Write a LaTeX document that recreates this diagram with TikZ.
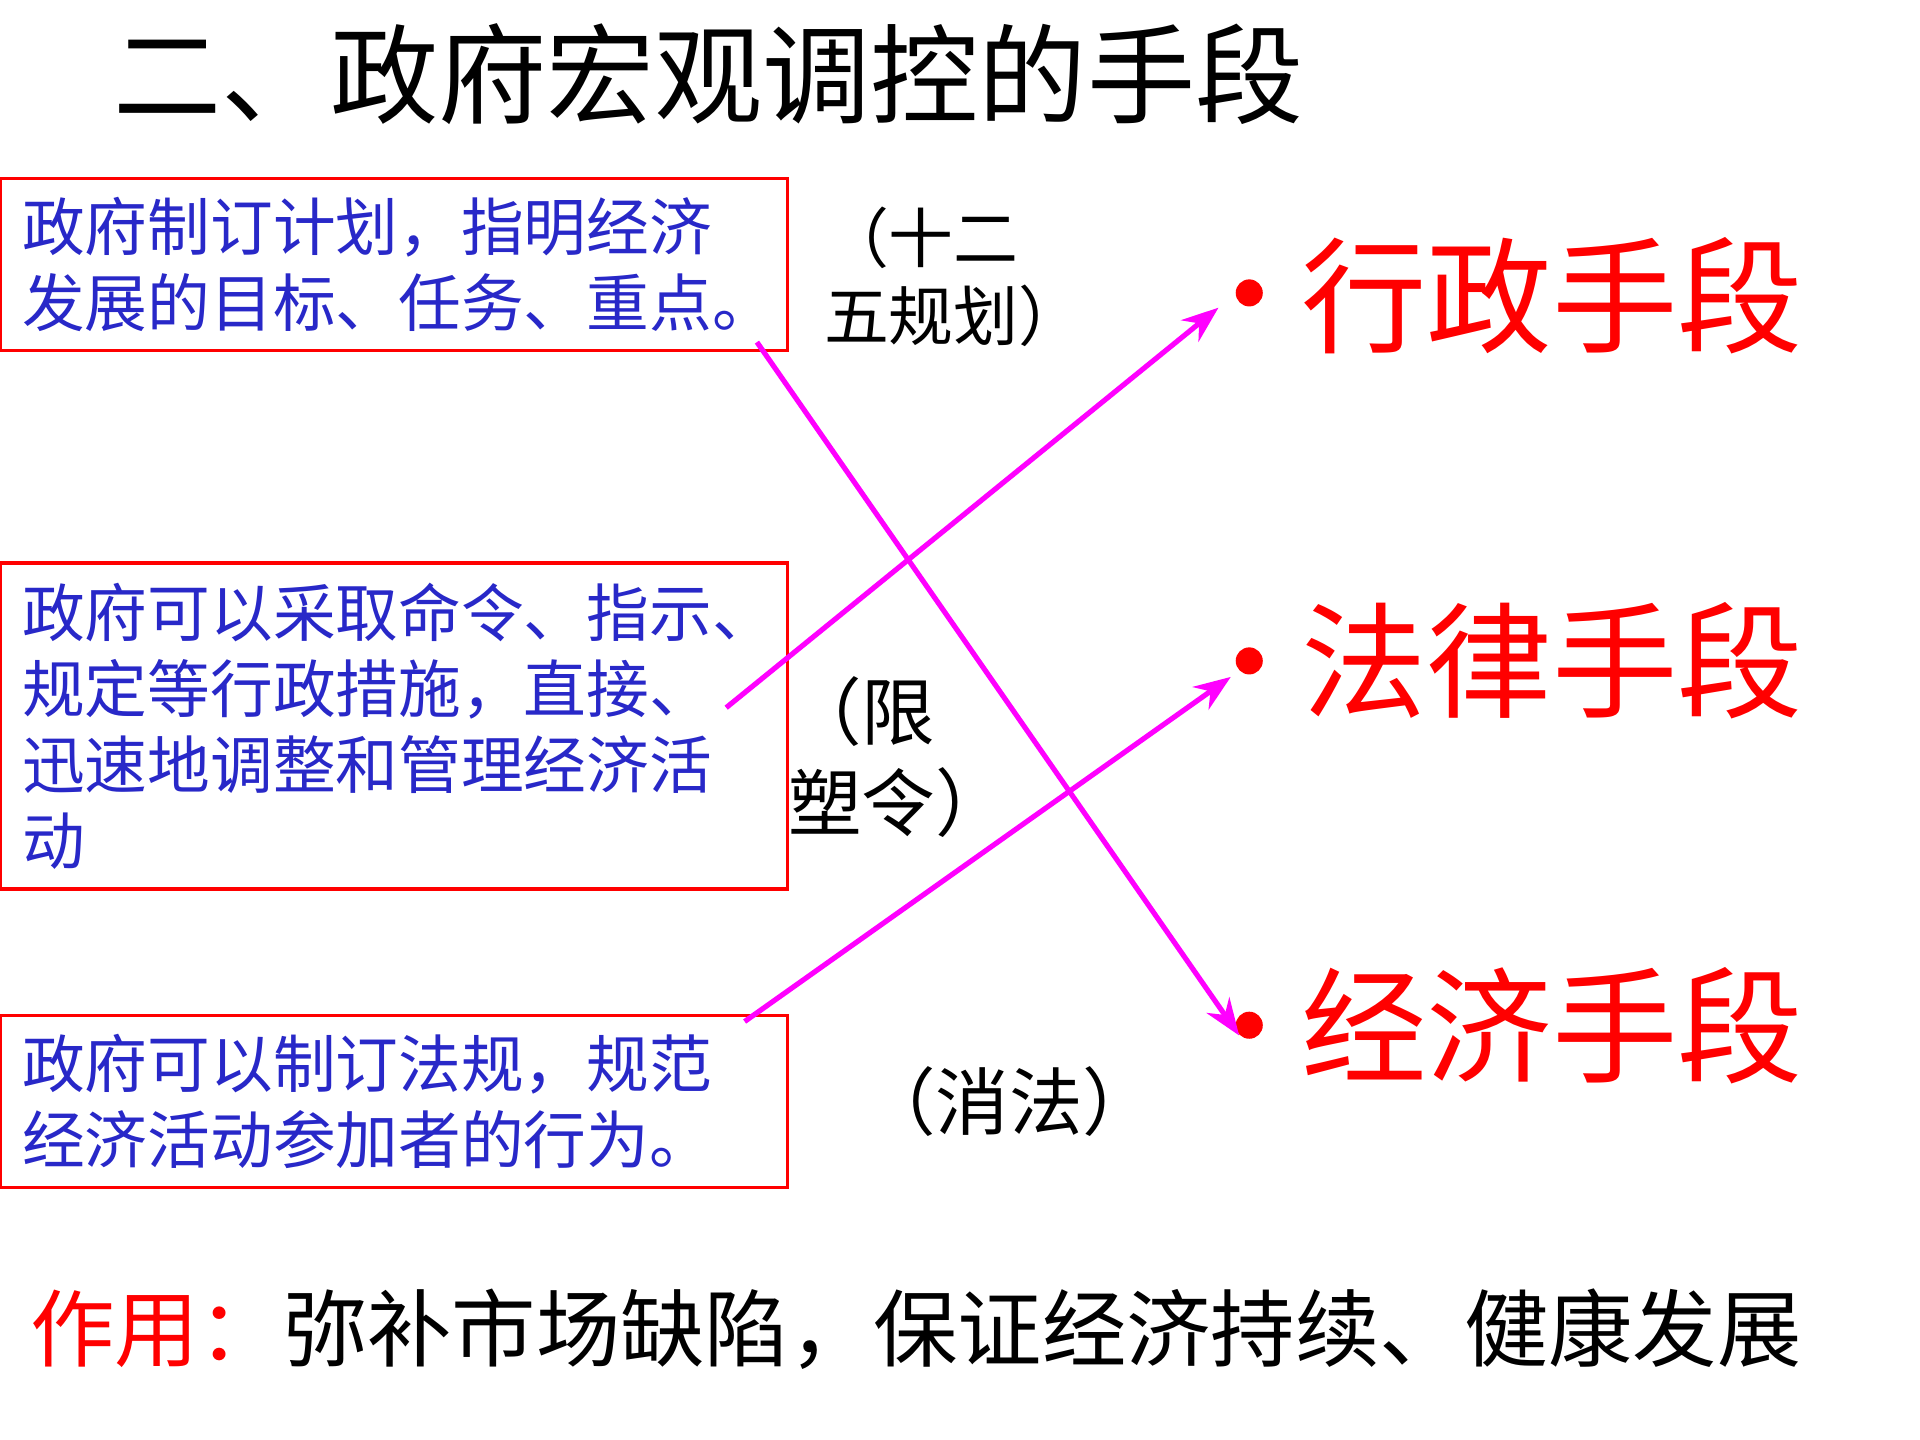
\documentclass[tikz,border=0pt]{standalone}
\usepackage{fontspec}
\newfontfamily\cjk{Noto Sans CJK SC}
\usetikzlibrary{arrows.meta}
\definecolor{boxblue}{RGB}{40,40,200}
\definecolor{linkpink}{RGB}{255,0,255}
\begin{document}
\begin{tikzpicture}[
	box/.style={draw=red, thick, text=boxblue, align=left, inner xsep=0.18cm,
		font=\cjk\fontsize{14.5}{17.6}\selectfont},
	note/.style={align=left, font=\cjk\fontsize{15}{18}\selectfont},
	means/.style={anchor=west, text=red, font=\cjk\fontsize{29}{34}\selectfont},
	link/.style={linkpink, very thick, -{Stealth[length=3mm]}}]

	\useasboundingbox (0,0) rectangle (15.6,11.7);

	\node (title) [anchor=west, font=\cjk\fontsize{25}{30}\selectfont] at (0.8,11.1) {二、政府宏观调控的手段};

	\node (plan) [box, minimum width=6.4cm, minimum height=1.4cm, text width=6.04cm] at (3.2,9.55)
		{政府制订计划，指明经济\\发展的目标、任务、重点。};
	\node (admin) [box, minimum width=6.4cm, minimum height=2.65cm, text width=6.04cm] at (3.2,5.8)
		{政府可以采取命令、指示、\\规定等行政措施，直接、\\迅速地调整和管理经济活\\动};
	\node (law) [box, minimum width=6.4cm, minimum height=1.4cm, text width=6.04cm] at (3.2,2.75)
		{政府可以制订法规，规范\\经济活动参加者的行为。};

	\node (n1) [note] at (7.75,9.45) {（十二\\五规划）};
	\node (n2) [note, font=\cjk\fontsize{17}{21}\selectfont] at (7.3,5.55) {（限\\塑令）};
	\node (n3) [note, font=\cjk\fontsize{17}{21}\selectfont] at (8.2,2.75) {（消法）};

	\node (d1) [circle, fill=red, inner sep=0pt, minimum size=0.22cm] at (10.15,9.32) {};
	\node (d2) [circle, fill=red, inner sep=0pt, minimum size=0.22cm] at (10.15,6.33) {};
	\node (d3) [circle, fill=red, inner sep=0pt, minimum size=0.22cm] at (10.15,3.37) {};
	\node (m1) [means] at (10.45,9.3) {行政手段};
	\node (m2) [means] at (10.45,6.33) {法律手段};
	\node (m3) [means] at (10.45,3.37) {经济手段};

	\coordinate (s1) at (6.15,8.92);
	\coordinate (s2) at (5.9,5.95);
	\coordinate (s3) at (6.05,3.4);
	\draw[link] (s1) -- (d3.south west);
	\draw[link] (s2) -- (9.9,9.2);
	\draw[link] (s3) -- (10.0,6.2);

	\node (use) [anchor=west, font=\cjk\fontsize{19.5}{24}\selectfont] at (0.12,0.9)
		{\textcolor{red}{作用：}弥补市场缺陷，保证经济持续、健康发展};

\end{tikzpicture}
\end{document}
